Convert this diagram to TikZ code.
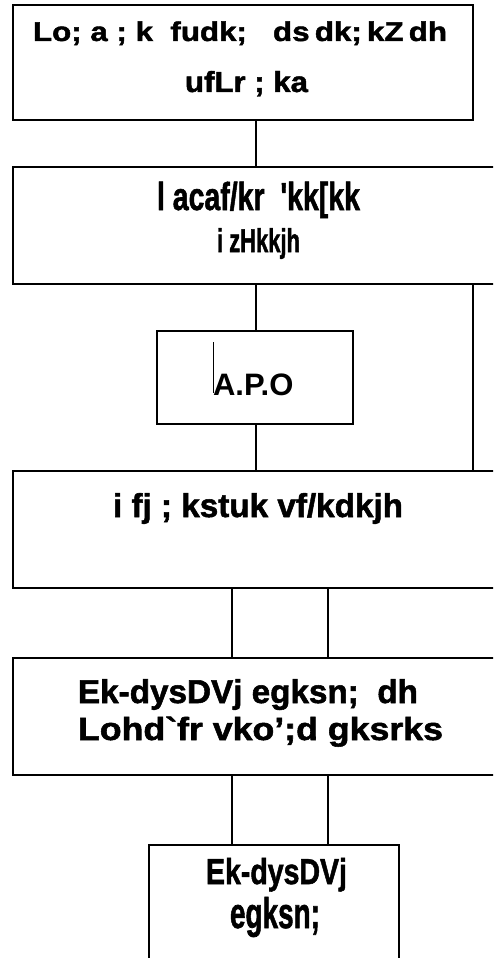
\documentclass[tikz,border=0pt]{standalone}
\usepackage{fontspec}
\setmainfont{Liberation Sans}
\newfontfamily\kfont{Liberation Sans Bold}[FakeBold=1.6]
\usepackage{graphicx}
\newcommand{\kline}[3]{\resizebox{#1pt}{\height}{\fontsize{#2pt}{#2pt}\kfont #3}}
\begin{document}
\begin{tikzpicture}[x=1pt,y=-1pt,
  box/.style={draw, line width=1.8pt, rectangle, inner sep=0pt},
  conn/.style={line width=1.2pt},
  txt/.style={anchor=base west, inner sep=0pt, outer sep=0pt}]
\useasboundingbox (0,0) rectangle (493,958);
\clip (0,0) rectangle (493,958);
\fill[white] (0,0) rectangle (493,958);
% boxes
\node[box, minimum width=460pt, minimum height=115pt] (b1) at (243,62.5) {};
\node[box, minimum width=495pt, minimum height=117pt] (b2) at (260.5,225.5) {};
\node[box, minimum width=196pt, minimum height=93pt] (b3) at (255,377.5) {};
\node[box, minimum width=495pt, minimum height=117pt] (b4) at (260.5,529.5) {};
\node[box, minimum width=495pt, minimum height=117pt] (b5) at (260.5,716.5) {};
\node[box, minimum width=250pt, minimum height=130pt] (b6) at (274,910) {};
% connector columns
\coordinate (cA) at (256,0);
\coordinate (cR) at (473,0);
\coordinate (cL) at (232,0);
\coordinate (cM) at (328,0);
\draw[conn] (cA |- b1.south) -- (cA |- b2.north);
\draw[conn] (cA |- b2.south) -- (cA |- b3.north);
\draw[conn] (cA |- b3.south) -- (cA |- b4.north);
\draw[conn] (cR |- b2.south) -- (cR |- b4.north);
\draw[conn] (cL |- b4.south) -- (cL |- b5.north);
\draw[conn] (cM |- b4.south) -- (cM |- b5.north);
\draw[conn] (cL |- b5.south) -- (cL |- b6.north);
\draw[conn] (cM |- b5.south) -- (cM |- b6.north);
% texts
\node[txt] (t1a) at (33,41) {\kline{414}{27}{Lo; a ; k\ \ fudk;\ \ \ ds\,dk;\,kZ\,dh}};
\node[txt] (t1b) at (185,92) {\kline{123}{29}{ufLr ; ka}};
\node[txt] (t2a) at (157,210) {\kline{203}{39}{l acaf/kr\ \ \textquotesingle kk[kk}};
\node[txt] (t2b) at (217,252) {\kline{83}{33}{i zHkkjh}};
\node[txt] (t3) at (213,395) {\fontsize{31pt}{31pt}\selectfont\bfseries A.P.O};
\draw[line width=0.6pt] (213,342) -- (213,393);
\node[txt] (t4) at (113,517) {\kline{290}{33}{i fj ; kstuk vf/kdkjh}};
\node[txt] (t5a) at (78,703) {\kline{340}{33}{Ek-dysDVj egksn;\ \ dh}};
\node[txt] (t5b) at (78,740) {\kline{365}{32}{Lohd\textasciigrave fr vko’;d gksrks}};
\node[txt] (t6a) at (206,884) {\kline{141}{36}{Ek-dysDVj}};
\node[txt] (t6b) at (230,928) {\kline{90}{43}{egksn;}};
\end{tikzpicture}
\end{document}
